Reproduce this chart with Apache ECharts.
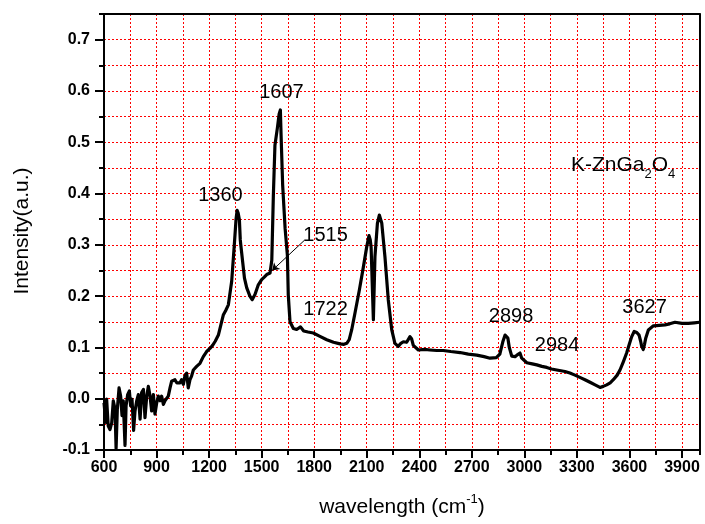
<!DOCTYPE html>
<html>
<head>
<meta charset="utf-8">
<script src="https://cdn.jsdelivr.net/npm/echarts@6/dist/echarts.min.js"></script>
<style>
  html, body { margin: 0; padding: 0; background: #fff; }
  #chart { width: 705px; height: 524px; }
</style>
</head>
<body>
<div id="chart"></div>
<script>
// FT-IR spectrum of K-ZnGa2O4
const wavenumber = [
  600, 606, 611, 615, 624, 634, 644, 653, 663, 669, 676, 686, 695, 703, 710, 720, 726, 735, 745, 752,
  760, 769, 777, 787, 796, 806, 815, 825, 834, 844, 853, 863, 872, 882, 891, 901, 910, 920, 929, 939,
  948, 958, 967, 977, 986, 996, 1005, 1015, 1024, 1034, 1043, 1053, 1062, 1072, 1081, 1091, 1100, 1110, 1129, 1148,
  1167, 1186, 1205, 1220, 1235, 1253, 1268, 1281, 1295, 1310, 1329, 1344, 1354, 1360, 1366, 1373, 1378, 1381, 1392, 1402,
  1415, 1433, 1446, 1462, 1481, 1500, 1515, 1529, 1548, 1558, 1567, 1576, 1590, 1600, 1607, 1611, 1620, 1634, 1647, 1652,
  1662, 1681, 1700, 1710, 1722, 1740, 1765, 1795, 1830, 1872, 1910, 1948, 1970, 1986, 2000, 2014, 2033, 2058, 2081, 2100,
  2113, 2120, 2125, 2138, 2147, 2161, 2172, 2180, 2186, 2204, 2223, 2243, 2261, 2280, 2295, 2309, 2328, 2347, 2356, 2366,
  2395, 2430, 2461, 2500, 2537, 2580, 2633, 2680, 2728, 2770, 2804, 2840, 2860, 2877, 2890, 2898, 2906, 2914, 2928, 2947,
  2962, 2975, 2985, 3014, 3045, 3071, 3100, 3128, 3155, 3185, 3232, 3260, 3289, 3320, 3346, 3375, 3404, 3432, 3450, 3470,
  3490, 3508, 3530, 3546, 3565, 3584, 3600, 3613, 3627, 3642, 3655, 3664, 3670, 3679, 3686, 3693, 3708, 3737, 3770, 3803,
  3830, 3860, 3900, 3936, 3970, 4000
];
const intensity = [
  -0.008, -0.030, -0.046, -0.001, -0.053, -0.060, -0.047, -0.004, -0.020, -0.097, -0.021, 0.021, 0.005, -0.033, -0.004, -0.091, -0.014, 0.008, 0.015, -0.014,
  -0.001, -0.062, -0.024, -0.004, 0.008, -0.040, 0.012, 0.018, -0.037, 0.005, 0.024, 0.005, -0.024, 0.008, -0.030, -0.008, 0.005, -0.004, 0.005, -0.011,
  -0.004, -0.001, 0.005, 0.021, 0.034, 0.031, 0.037, 0.031, 0.034, 0.031, 0.037, 0.028, 0.044, 0.050, 0.021, 0.037, 0.044, 0.056, 0.063, 0.069,
  0.082, 0.092, 0.098, 0.104, 0.112, 0.124, 0.145, 0.163, 0.172, 0.183, 0.229, 0.300, 0.350, 0.367, 0.362, 0.349, 0.310, 0.300, 0.297, 0.235,
  0.216, 0.200, 0.193, 0.203, 0.222, 0.232, 0.237, 0.242, 0.245, 0.270, 0.397, 0.494, 0.528, 0.555, 0.563, 0.514, 0.417, 0.332, 0.280, 0.203,
  0.150, 0.137, 0.135, 0.138, 0.140, 0.132, 0.130, 0.128, 0.122, 0.115, 0.110, 0.107, 0.106, 0.108, 0.115, 0.134, 0.167, 0.212, 0.257, 0.296,
  0.318, 0.310, 0.296, 0.154, 0.277, 0.342, 0.358, 0.355, 0.342, 0.277, 0.193, 0.134, 0.108, 0.102, 0.108, 0.111, 0.110, 0.121, 0.117, 0.104,
  0.095, 0.096, 0.095, 0.094, 0.094, 0.092, 0.090, 0.087, 0.085, 0.082, 0.079, 0.080, 0.087, 0.111, 0.124, 0.127, 0.118, 0.100, 0.083, 0.082,
  0.086, 0.089, 0.079, 0.070, 0.068, 0.066, 0.063, 0.061, 0.058, 0.056, 0.053, 0.050, 0.046, 0.041, 0.037, 0.032, 0.027, 0.022, 0.024, 0.027,
  0.031, 0.037, 0.046, 0.056, 0.072, 0.089, 0.107, 0.121, 0.131, 0.129, 0.124, 0.112, 0.102, 0.096, 0.106, 0.118, 0.134, 0.142, 0.143, 0.144,
  0.146, 0.149, 0.147, 0.147, 0.148, 0.149
];

const xTickLabels = [600, 900, 1200, 1500, 1800, 2100, 2400, 2700, 3000, 3300, 3600, 3900];
const yTickLabels = [-0.1, 0.0, 0.1, 0.2, 0.3, 0.4, 0.5, 0.6, 0.7];
const peakLabels = ['1360', '1607', '1515', '1722', '2898', '2984', '3627'];
const xTitle = 'wavelength (cm';
const xTitleSup = '-1';
const yTitle = 'Intensity(a.u.)';

// label anchors (data units) for the peak annotations
const peakLabelAt = [
  [1265, 0.397], [1613, 0.597], [1865, 0.319], [1865, 0.174],
  [2924, 0.160], [3187, 0.104], [3686, 0.177]
];
// leader line from the 1515 label to the shoulder
const leaderFrom = [1748, 0.310];
const leaderTo = [1560, 0.250];

const FONT = '"Liberation Sans", Arial, Helvetica, sans-serif';
const X_MIN = 600, X_MAX = 4000, Y_MIN = -0.1, Y_MAX = 0.75;

const grid = {
  left: 104, right: 5.5, top: 14, bottom: 74,
  containLabel: false, outerBoundsMode: 'none'
};

const noSplit = { show: false };

const chart = echarts.init(document.getElementById('chart'), null, { renderer: 'canvas' });

chart.setOption({
  animation: false,
  backgroundColor: '#ffffff',
  grid: grid,
  xAxis: [
    { // gridlines + short ticks every 150
      type: 'value', min: X_MIN, max: X_MAX, interval: 150, position: 'bottom',
      axisLine: { show: false, onZero: false },
      axisTick: { show: true, length: 5, inside: false, lineStyle: { color: '#000', width: 2 } },
      axisLabel: { show: false },
      splitLine: { show: true, lineStyle: { color: '#ff0000', width: 1, type: [2, 2] } }
    },
    { // labelled bottom axis
      type: 'value', min: X_MIN, max: X_MAX, interval: 300, position: 'bottom', z: 5,
      axisLine: { show: true, onZero: false, lineStyle: { color: '#000', width: 2 } },
      axisTick: { show: true, customValues: xTickLabels, length: 8, inside: false, lineStyle: { color: '#000', width: 2 } },
      axisLabel: {
        show: true, customValues: xTickLabels, margin: 10, color: '#000', fontSize: 16, fontWeight: 'bold', fontFamily: FONT,
        formatter: v => String(v)
      },
      splitLine: noSplit
    },
    { // top frame
      type: 'value', min: X_MIN, max: X_MAX, position: 'top', z: 6,
      axisLine: { show: true, onZero: false, lineStyle: { color: '#000', width: 2 } },
      axisTick: { show: false }, axisLabel: { show: false }, splitLine: noSplit
    }
  ],
  yAxis: [
    { // gridlines + short ticks every 0.05
      type: 'value', min: Y_MIN, max: Y_MAX, interval: 0.05, position: 'left',
      axisLine: { show: false, onZero: false },
      axisTick: { show: true, length: 5, inside: false, lineStyle: { color: '#000', width: 2 } },
      axisLabel: { show: false },
      splitLine: { show: true, lineStyle: { color: '#ff0000', width: 1, type: [2, 2] } }
    },
    { // labelled left axis
      type: 'value', min: Y_MIN, max: Y_MAX, interval: 0.1, position: 'left', z: 5,
      axisLine: { show: true, onZero: false, lineStyle: { color: '#000', width: 2 } },
      axisTick: { show: true, customValues: yTickLabels, length: 9, inside: false, lineStyle: { color: '#000', width: 2 } },
      axisLabel: {
        show: true, customValues: yTickLabels, margin: 14, color: '#000', fontSize: 16, fontWeight: 'bold', fontFamily: FONT,
        formatter: v => Number(v).toFixed(1)
      },
      splitLine: noSplit
    },
    { // right frame
      type: 'value', min: Y_MIN, max: Y_MAX, position: 'right', z: 6,
      axisLine: { show: true, onZero: false, lineStyle: { color: '#000', width: 2 } },
      axisTick: { show: false }, axisLabel: { show: false }, splitLine: noSplit
    }
  ],
  series: [
    {
      name: 'spectrum', type: 'line', xAxisIndex: 1, yAxisIndex: 1, z: 3,
      data: wavenumber.map((w, i) => [w, intensity[i]]),
      showSymbol: false, symbol: 'none', smooth: false, silent: true,
      lineStyle: { color: '#000', width: 3.2, join: 'round' }
    },
    {
      name: 'leader', type: 'lines', coordinateSystem: 'cartesian2d', xAxisIndex: 1, yAxisIndex: 1, z: 4,
      silent: true, symbol: ['none', 'arrow'], symbolSize: 7,
      lineStyle: { color: '#000', width: 1, opacity: 1, curveness: 0 },
      data: [{ coords: [leaderFrom, leaderTo] }]
    },
    {
      name: 'peaks', type: 'scatter', xAxisIndex: 1, yAxisIndex: 1, z: 4, silent: true,
      symbolSize: 0, itemStyle: { color: 'rgba(0,0,0,0)', opacity: 1 },
      data: peakLabelAt.map((p, i) => ({ value: p, name: peakLabels[i] })),
      label: {
        show: true, position: 'inside', formatter: '{b}', color: '#000', opacity: 1,
        fontSize: 20, fontFamily: FONT, align: 'center', verticalAlign: 'middle'
      },
      emphasis: { disabled: true }
    }
  ],
  graphic: [
    { // sample name with subscripts
      type: 'text', left: 571, top: 155, z: 10, silent: true,
      style: {
        text: '{b|K-ZnGa}{s|2}{b|O}{s|4}',
        rich: {
          b: { fontSize: 21, lineHeight: 30, fontFamily: FONT, fill: '#000' },
          s: { fontSize: 13, lineHeight: 12, fontFamily: FONT, fill: '#000', verticalAlign: 'bottom' }
        }
      }
    },
    { // x-axis title
      type: 'text', x: 402, y: 507, z: 10, silent: true,
      style: {
        text: '{a|' + xTitle + '}{s|' + xTitleSup + '}{a|)}',
        align: 'center', verticalAlign: 'middle',
        rich: {
          a: { fontSize: 21, lineHeight: 28, fontFamily: FONT, fill: '#000' },
          s: { fontSize: 13, lineHeight: 14, fontFamily: FONT, fill: '#000', verticalAlign: 'top' }
        }
      }
    },
    { // y-axis title
      type: 'text', x: 22.5, y: 231, rotation: Math.PI / 2, z: 10, silent: true,
      style: {
        text: yTitle, align: 'center', verticalAlign: 'middle',
        fontSize: 21, fontFamily: FONT, fill: '#000'
      }
    }
  ]
});
</script>
</body>
</html>
